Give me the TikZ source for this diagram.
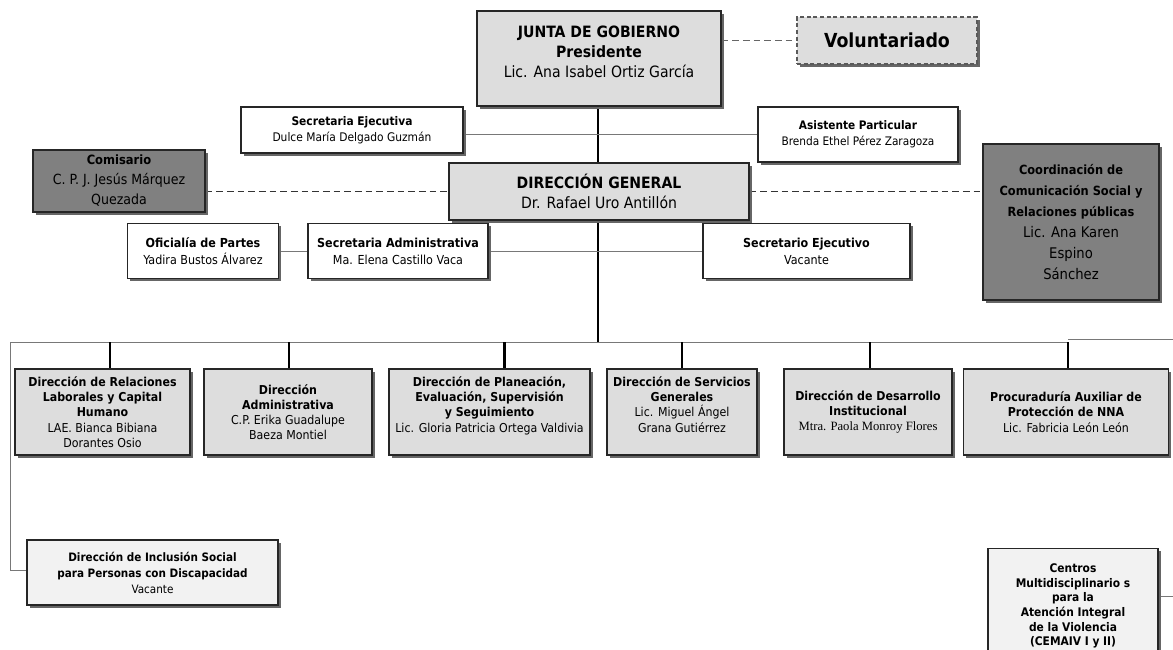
\documentclass[tikz,border=0pt]{standalone}
\usepackage{fontspec}
\setmainfont{DejaVu Sans Condensed}
\newfontfamily\tnr{Liberation Serif}
\usetikzlibrary{shadows,backgrounds,calc}
\definecolor{lg}{RGB}{221,221,221}
\definecolor{dg}{RGB}{128,128,128}
\definecolor{vl}{RGB}{242,242,242}
\definecolor{ln}{RGB}{120,120,120}
\tikzset{
  box/.style={draw=black!85, line width=0.8pt, align=center, inner sep=0pt,
    drop shadow={shadow xshift=2.2pt, shadow yshift=-2.2pt, fill=black!60, opacity=1}},
  wh/.style n args={2}{minimum width=#1*0.75pt, minimum height=#2*0.75pt},
  lgbox/.style={box, fill=lg},
  wbox/.style={box, fill=white},
  dkbox/.style={box, fill=dg},
  vlbox/.style={box, fill=vl},
  trunk/.style={line width=2.2pt, black},
  thinln/.style={line width=0.6pt, ln},
  dashln/.style={line width=1pt, black!80, dash pattern=on 5pt off 3pt},
}
\begin{document}
\begin{tikzpicture}[x=0.75pt,y=-0.75pt]
\useasboundingbox (0,0) rectangle (1173,649);
% top
\node[lgbox, wh={244}{95}, font=\fontsize{11.7}{15}\selectfont] (junta) at (599,58.5)
  {\textbf{JUNTA DE  GOBIERNO}\\\textbf{Presidente}\\Lic. Ana Isabel Ortiz García\\[-5pt]\mbox{}};
\node[box, fill=lg, draw=black!65, wh={180}{47}, dash pattern=on 3pt off 2pt, font=\fontsize{14.5}{18}\selectfont\bfseries] (volun) at (887,40.5) {Voluntariado};
\node[wbox, wh={222}{46}, font=\fontsize{8.9}{12}\selectfont] (secej) at (352,130)
  {\textbf{Secretaria Ejecutiva}\\Dulce María Delgado Guzmán};
\node[wbox, wh={200}{55}, font=\fontsize{8.8}{12}\selectfont] (asist) at (858,134.5)
  {\textbf{Asistente Particular}\\Brenda Ethel Pérez Zaragoza};
\node[dkbox, wh={172}{62}, font=\fontsize{10.5}{15}\selectfont] (comis) at (119,181)
  {{\fontsize{9.6}{15}\selectfont\textbf{Comisario}}\\C. P. J. Jesús Márquez\\Quezada};
\node[lgbox, wh={300}{57}, font=\fontsize{11.7}{15}\selectfont] (dgen) at (599,191.5)
  {\textbf{DIRECCIÓN GENERAL}\\Dr. Rafael Uro Antillón};
\node[dkbox, wh={176}{156}, font=\fontsize{9.5}{15.8}\selectfont] (coord) at (1071,222)
  {\textbf{Coordinación de}\\\textbf{Comunicación Social y}\\\textbf{Relaciones públicas}\\{\fontsize{11}{15.8}\selectfont Lic. Ana Karen}\\{\fontsize{11}{15.8}\selectfont Espino}\\{\fontsize{11}{15.8}\selectfont Sánchez}};
\node[wbox, wh={151}{55}, font=\fontsize{9.3}{12.6}\selectfont] (ofic) at (203,251)
  {\textbf{Oficialía de Partes}\\Yadira Bustos Álvarez};
\node[wbox, wh={180}{55}, font=\fontsize{9.3}{12.6}\selectfont] (secadm) at (398,251)
  {\textbf{Secretaria Administrativa}\\Ma. Elena Castillo Vaca};
\node[wbox, wh={207}{55}, font=\fontsize{9.3}{12.6}\selectfont] (secrej) at (806.5,251)
  {\textbf{Secretario Ejecutivo}\\Vacante};
% directors
\tikzset{dirbox/.style={lgbox, minimum height=86*0.75pt, font=\fontsize{9.2}{11.4}\selectfont}}
\node[dirbox, minimum width=175*0.75pt] (d1) at (102.5,412)
  {\textbf{Dirección de Relaciones}\\\textbf{Laborales y Capital}\\\textbf{Humano}\\LAE. Bianca Bibiana\\Dorantes  Osio};
\node[dirbox, minimum width=168*0.75pt] (d2) at (288,412)
  {\textbf{Dirección}\\\textbf{Administrativa}\\C.P.  Erika Guadalupe\\Baeza Montiel};
\node[dirbox, minimum width=201*0.75pt] (d3) at (489.5,412)
  {\textbf{Dirección de  Planeación,}\\\textbf{Evaluación, Supervisión}\\\textbf{y  Seguimiento}\\Lic. Gloria Patricia Ortega Valdivia\\\mbox{}};
\node[dirbox, minimum width=150*0.75pt] (d4) at (682,412)
  {\textbf{Dirección de Servicios}\\\textbf{Generales}\\Lic. Miguel Ángel\\Grana Gutiérrez\\\mbox{}};
\node[dirbox, minimum width=168*0.75pt] (d5) at (868,412)
  {\textbf{Dirección de Desarrollo}\\\textbf{Institucional}\\{\tnr\fontsize{9.5}{11.4}\selectfont Mtra. Paola Monroy Flores}};
\node[dirbox, minimum width=205*0.75pt] (d6) at (1066,412)
  {\textbf{Procuraduría Auxiliar de}\\\textbf{Protección de NNA}\\Lic. Fabricia León León};
% bottom
\node[vlbox, wh={251}{65}, font=\fontsize{8.7}{12}\selectfont] (incl) at (152.5,572.5)
  {\textbf{Dirección de Inclusión Social}\\\textbf{para  Personas con Discapacidad}\\Vacante};
\node[vlbox, wh={170}{115}, font=\fontsize{8.9}{11}\selectfont\bfseries] (cent) at (1073,606)
  {Centros\\Multidisciplinario s\\para la\\Atención Integral\\de la Violencia\\(CEMAIV  I y II)};
% coordinates
\coordinate (busC) at (598,342);
\coordinate (busL) at (10,342);
\coordinate (busR) at (1068,342);
\coordinate (busR2) at (1068,339);
\coordinate (farR) at (1180,339);
\coordinate (farRB) at (1180,596);
\coordinate (inclC) at (10,570);
\begin{scope}[on background layer]
  \draw[trunk] (busC |- junta.south) -- (busC);
  \draw[thinln] (busL) -- (busR);
  \draw[thinln] (busR2) -- (farR) -- (farRB) -- (farRB -| cent.east);
  \draw[thinln] (busL) -- (inclC) -- (inclC -| incl.west);
  \draw[thinln] (asist.west -| secej.east) -- (asist.west);
  \draw[thinln] (ofic.east) -- (secadm.west);
  \draw[thinln] (secadm.east) -- (secrej.west);
  \draw[dashln, black!60] (volun.west -| junta.east) -- (volun.west);
  \draw[dashln] (dgen.west -| comis.east) -- (dgen.west);
  \draw[dashln] (dgen.east) -- (dgen.east -| coord.west);
  \draw[trunk] ([xshift=5.6pt]d1.north |- busC) -- ([xshift=5.6pt]d1.north);
  \draw[trunk] ([xshift=0.75pt]d2.north |- busC) -- ([xshift=0.75pt]d2.north);
  \draw[trunk] ([xshift=10.9pt]d3.north |- busC) -- ([xshift=10.9pt]d3.north);
  \draw[trunk] (d4.north |- busC) -- (d4.north);
  \draw[trunk] ([xshift=1.5pt]d5.north |- busC) -- ([xshift=1.5pt]d5.north);
  \draw[trunk] ([xshift=1.5pt]d6.north |- busR) -- ([xshift=1.5pt]d6.north);
\end{scope}
\end{tikzpicture}
\end{document}
